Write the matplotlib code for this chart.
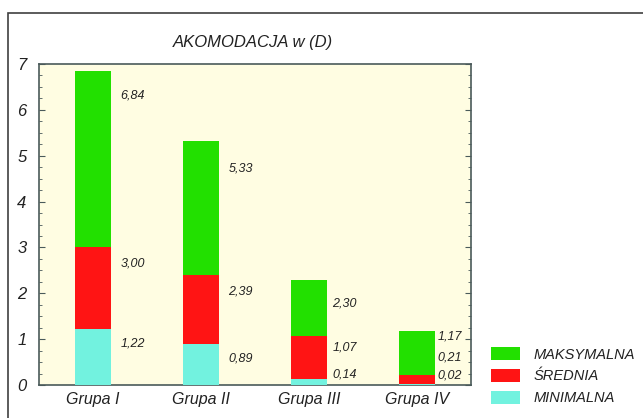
import matplotlib
matplotlib.use("Agg")
import matplotlib.pyplot as plt
from matplotlib.patches import Rectangle
from matplotlib.ticker import MultipleLocator

groups = ["Grupa I", "Grupa II", "Grupa III", "Grupa IV"]
maksymalna = [6.84, 5.33, 2.30, 1.17]
srednia = [3.00, 2.39, 1.07, 0.21]
minimalna = [1.22, 0.89, 0.14, 0.02]
series_names = ["MAKSYMALNA", "ŚREDNIA", "MINIMALNA"]
yticks = [0, 1, 2, 3, 4, 5, 6, 7]

plt.rcParams["font.family"] = ["Liberation Sans", "DejaVu Sans"]

W, H, DPI = 643, 418, 100
fig = plt.figure(figsize=(W / DPI, H / DPI), dpi=DPI)
fig.patch.set_facecolor("white")

# outer frame (only top and left edges visible)
fig.add_artist(Rectangle((8 / W, -0.1), 1.2, 1.1 - 13 / H,
                         transform=fig.transFigure, fill=False,
                         edgecolor="#404040", linewidth=1.2))

left, right, top, bottom = 39, 471, 64, 385
ax = fig.add_axes([left / W, 1 - bottom / H, (right - left) / W, (bottom - top) / H])
ax.set_facecolor("#fffde2")

green, red, cyan = "#22e000", "#ff1414", "#72f2df"
x = [i + 0.5 for i in range(len(groups))]
bw = 0.34
ax.bar(x, maksymalna, width=bw, color=green, label=series_names[0], zorder=2)
ax.bar(x, srednia, width=bw, color=red, label=series_names[1], zorder=3)
ax.bar(x, minimalna, width=bw, color=cyan, label=series_names[2], zorder=4)

# value labels beside each bar: horizontal gap and vertical nudge (pixels)
x_gaps = [9, 9, 5, 2]
offsets = [
    [-24, -16, -14],
    [-28, -16, -14],
    [-24, -12, 4],
    [-5, 18, 9],
]
for i, (mx, sr, mn) in enumerate(zip(maksymalna, srednia, minimalna)):
    for j, v in enumerate((mx, sr, mn)):
        ax.annotate(f"{v:.2f}".replace(".", ","), (x[i] + bw / 2, v),
                    xytext=(x_gaps[i] * 0.72, offsets[i][j] * 0.72),
                    textcoords="offset points",
                    ha="left", va="center", fontsize=9, style="italic",
                    color="#222222", zorder=5)

ax.set_xlim(0, 4)
ax.set_ylim(0, 7)
ax.set_xticks(x)
ax.set_xticklabels(groups, fontsize=11.5, style="italic", color="#222222")
ax.set_yticks(yticks)
ax.set_yticklabels([str(t) for t in yticks], fontsize=12, style="italic", color="#222222")
ax.yaxis.set_minor_locator(MultipleLocator(0.25))
ax.tick_params(axis="x", length=0, pad=5)
ax.tick_params(axis="y", which="both", direction="in", right=True, color="#4a5a5a")
ax.tick_params(axis="y", which="major", length=4, pad=9)
ax.tick_params(axis="y", which="minor", length=2.5)
for s in ax.spines.values():
    s.set_color("#4a5a5a")
    s.set_linewidth(1.2)

fig.text(253 / W, 1 - 42 / H, "AKOMODACJA w (D)", ha="center", va="center",
         fontsize=12, style="italic", color="#222222")

handles, labels = ax.get_legend_handles_labels()
leg = fig.legend(handles, labels, loc="upper left",
                 bbox_to_anchor=(478 / W, 1 - 334 / H), frameon=False,
                 prop={"size": 10.5, "style": "italic"}, handlelength=2.0,
                 handleheight=1.0, labelspacing=0.5, handletextpad=0.9)
for t in leg.get_texts():
    t.set_color("#222222")

fig.savefig("out.png", dpi=DPI)
